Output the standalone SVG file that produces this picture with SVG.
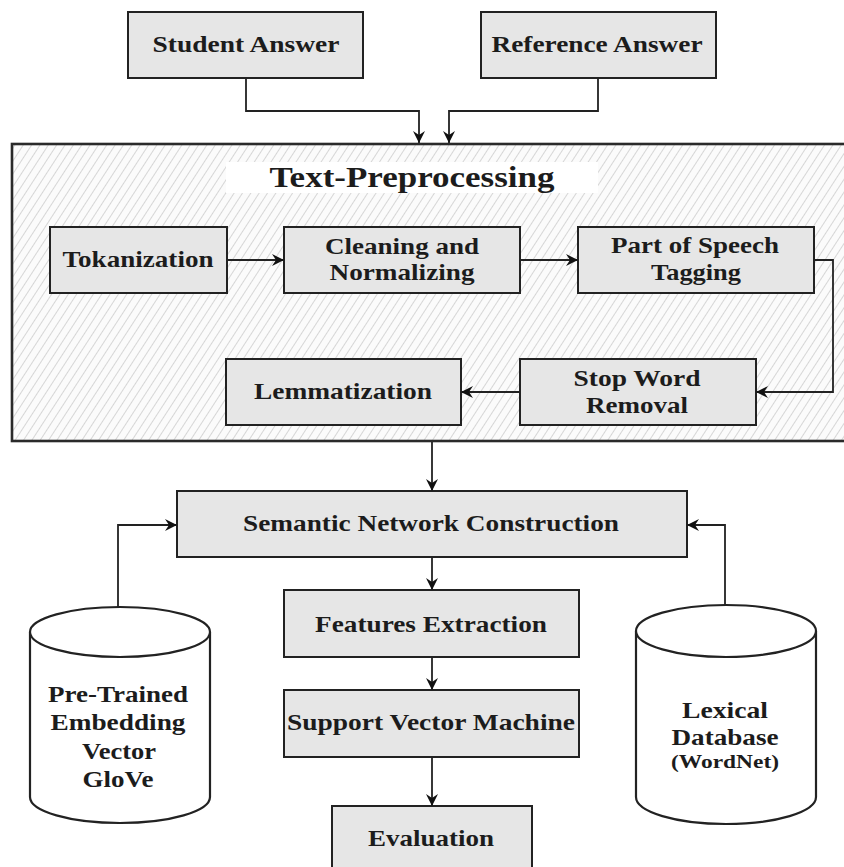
<svg xmlns="http://www.w3.org/2000/svg" width="844" height="867" viewBox="0 0 844 867">
<defs>
<style>
.box{fill:#e6e6e6;stroke:#222;stroke-width:2}
.cyl{fill:#fff;stroke:#222;stroke-width:2.2}
.t{font-family:"Liberation Serif","Times New Roman",serif;font-weight:bold;font-size:24px;fill:#1c1c1c;text-anchor:middle}
.ca{fill:none;stroke:#222;stroke-width:1.8;marker-end:url(#ah)}
</style>
<marker id="ah" markerUnits="userSpaceOnUse" markerWidth="13" markerHeight="12" refX="12" refY="6" orient="auto">
<path d="M0,0 L12,6 L0,12 L4,6 z" fill="#111"/>
</marker>
<pattern id="hatch" patternUnits="userSpaceOnUse" width="7" height="7" patternTransform="rotate(33)">
<rect width="7" height="7" fill="#fbfbfb"/>
<line x1="0" y1="0" x2="0" y2="7" stroke="#cdcdcd" stroke-width="1.6"/>
</pattern>
</defs>

<g id="text-preprocessing">
<rect x="12" y="144" width="842" height="297" fill="url(#hatch)" stroke="#2a2a2a" stroke-width="2.6"/>
<rect x="226" y="162" width="372" height="31" fill="#fff"/>
<text class="t" x="412" y="187" style="font-size:29px" textLength="285" lengthAdjust="spacingAndGlyphs">Text-Preprocessing</text>
</g>

<g id="student-answer">
<rect class="box" x="128" y="12" width="235" height="66"/>
<text class="t" x="246" y="52" textLength="187" lengthAdjust="spacingAndGlyphs">Student Answer</text>
</g>
<g id="reference-answer">
<rect class="box" x="481" y="12" width="235" height="66"/>
<text class="t" x="597" y="52" textLength="211" lengthAdjust="spacingAndGlyphs">Reference Answer</text>
</g>

<g id="tokanization">
<rect class="box" x="50" y="227" width="177" height="66"/>
<text class="t" x="138" y="267" textLength="151" lengthAdjust="spacingAndGlyphs">Tokanization</text>
</g>
<g id="cleaning">
<rect class="box" x="284" y="227" width="236" height="66"/>
<text class="t" x="402" y="254" textLength="154" lengthAdjust="spacingAndGlyphs">Cleaning and</text>
<text class="t" x="402" y="280" textLength="145" lengthAdjust="spacingAndGlyphs">Normalizing</text>
</g>
<g id="pos-tagging">
<rect class="box" x="578" y="227" width="236" height="66"/>
<text class="t" x="695" y="253" textLength="168" lengthAdjust="spacingAndGlyphs">Part of Speech</text>
<text class="t" x="696" y="280" textLength="90" lengthAdjust="spacingAndGlyphs">Tagging</text>
</g>
<g id="stop-word">
<rect class="box" x="520" y="359" width="236" height="66"/>
<text class="t" x="637" y="386" textLength="127" lengthAdjust="spacingAndGlyphs">Stop Word</text>
<text class="t" x="637" y="413" textLength="102" lengthAdjust="spacingAndGlyphs">Removal</text>
</g>
<g id="lemmatization">
<rect class="box" x="226" y="359" width="235" height="66"/>
<text class="t" x="343" y="399" textLength="178" lengthAdjust="spacingAndGlyphs">Lemmatization</text>
</g>

<g id="semantic-network">
<rect class="box" x="177" y="491" width="510" height="66"/>
<text class="t" x="431" y="531" textLength="376" lengthAdjust="spacingAndGlyphs">Semantic Network Construction</text>
</g>
<g id="features-extraction">
<rect class="box" x="284" y="590" width="295" height="67"/>
<text class="t" x="431" y="632" textLength="232" lengthAdjust="spacingAndGlyphs">Features Extraction</text>
</g>
<g id="svm">
<rect class="box" x="284" y="690" width="295" height="67"/>
<text class="t" x="431" y="730" textLength="288" lengthAdjust="spacingAndGlyphs">Support Vector Machine</text>
</g>
<g id="evaluation">
<rect class="box" x="332" y="806" width="200" height="70"/>
<text class="t" x="431" y="846" textLength="126" lengthAdjust="spacingAndGlyphs">Evaluation</text>
</g>

<g id="glove">
<path class="cyl" d="M30,632 L30,797 A90,26 0 0,0 210,797 L210,632"/>
<ellipse class="cyl" cx="120" cy="632" rx="90" ry="25"/>
<text class="t" x="118" y="702" style="font-size:23px" textLength="140" lengthAdjust="spacingAndGlyphs">Pre-Trained</text>
<text class="t" x="118" y="730" style="font-size:23px" textLength="135" lengthAdjust="spacingAndGlyphs">Embedding</text>
<text class="t" x="119" y="759" style="font-size:23px" textLength="74" lengthAdjust="spacingAndGlyphs">Vector</text>
<text class="t" x="118" y="787" style="font-size:23px" textLength="71" lengthAdjust="spacingAndGlyphs">GloVe</text>
</g>
<g id="wordnet">
<path class="cyl" d="M636,631 L636,797 A90,27 0 0,0 816,797 L816,631"/>
<ellipse class="cyl" cx="726" cy="631" rx="90" ry="26"/>
<text class="t" x="725" y="718" style="font-size:23px" textLength="86" lengthAdjust="spacingAndGlyphs">Lexical</text>
<text class="t" x="725" y="745" style="font-size:23px" textLength="107" lengthAdjust="spacingAndGlyphs">Database</text>
<text class="t" x="725" y="768" style="font-size:19px" textLength="108" lengthAdjust="spacingAndGlyphs">(WordNet)</text>
</g>

<g id="connectors">
<path class="ca" d="M246,78 V111 H419 V143"/>
<path class="ca" d="M598,78 V111 H449 V143"/>
<path class="ca" d="M227,260 H284"/>
<path class="ca" d="M520,260 H578"/>
<path class="ca" d="M814,260 H833 V392 H756"/>
<path class="ca" d="M520,392 H461"/>
<path class="ca" d="M432,442 V491"/>
<path class="ca" d="M432,557 V590"/>
<path class="ca" d="M432,657 V690"/>
<path class="ca" d="M432,757 V806"/>
<path class="ca" d="M118,607 V525 H177"/>
<path class="ca" d="M725,605 V525 H687"/>
</g>
</svg>
